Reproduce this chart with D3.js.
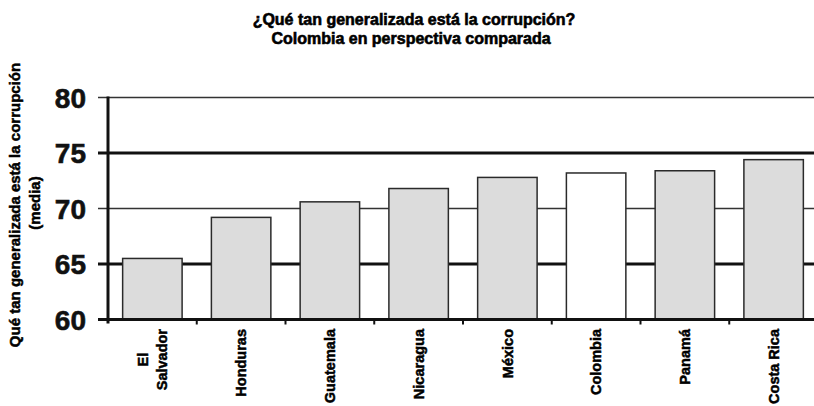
<!DOCTYPE html>
<html>
<head>
<meta charset="utf-8">
<script src="https://cdn.jsdelivr.net/npm/d3@7"></script>
<style>
  html, body { margin: 0; padding: 0; background: #fff; }
  svg { display: block; }
</style>
</head>
<body>
<svg id="chart" width="814" height="406"></svg>
<script>
const categories = ["El Salvador", "Honduras", "Guatemala", "Nicaragua", "México", "Colombia", "Panamá", "Costa Rica"];
const values = [65.5, 69.2, 70.6, 71.8, 72.8, 73.2, 73.4, 74.4];
const highlight = "Colombia";
const yTicks = [60, 65, 70, 75, 80];
const thickTicks = [60, 65, 75];
const titleLines = ["¿Qué tan generalizada está la corrupción?", "Colombia en perspectiva comparada"];
const yTitleLines = ["Qué tan generalizada está la corrupción", "(media)"];

const svg = d3.select("#chart");
const font = "'Liberation Sans', Arial, sans-serif";

const y = d3.scaleLinear().domain([60, 80]).range([319.5, 97.5]);
const x = d3.scaleBand().domain(categories).range([108, 818]).paddingInner(0.33).paddingOuter(0.165);
const step = x.step();

// gridlines
svg.append("g").selectAll("line").data(yTicks).join("line")
  .attr("x1", 98).attr("x2", 814)
  .attr("y1", d => y(d)).attr("y2", d => y(d))
  .attr("stroke", d => thickTicks.includes(d) ? "#111" : "#333")
  .attr("stroke-width", d => thickTicks.includes(d) ? 3 : 1.5);

// bars
svg.append("g").selectAll("rect").data(categories).join("rect")
  .attr("x", d => x(d))
  .attr("width", x.bandwidth())
  .attr("y", (d, i) => y(values[i]))
  .attr("height", (d, i) => y(60) - y(values[i]))
  .attr("fill", d => d === highlight ? "#ffffff" : "#dcdcdc")
  .attr("stroke", "#2a2a2a")
  .attr("stroke-width", 1.5);

// x axis line
svg.append("line").attr("x1", 98).attr("x2", 814).attr("y1", y(60)).attr("y2", y(60))
  .attr("stroke", "#111").attr("stroke-width", 3);

// y axis line
svg.append("line").attr("x1", 108).attr("x2", 108).attr("y1", y(80) - 1).attr("y2", y(60) + 4)
  .attr("stroke", "#111").attr("stroke-width", 3);

// x ticks at band boundaries
svg.append("g").selectAll("line").data(d3.range(1, categories.length + 1)).join("line")
  .attr("x1", i => x.range()[0] + i * step).attr("x2", i => x.range()[0] + i * step)
  .attr("y1", y(60)).attr("y2", y(60) + 5)
  .attr("stroke", "#111").attr("stroke-width", 2);

// y tick labels
svg.append("g").selectAll("text").data(yTicks).join("text")
  .attr("x", 86).attr("y", d => y(d)).attr("dy", "0.36em")
  .attr("text-anchor", "end")
  .attr("font-family", font).attr("font-weight", "bold").attr("font-size", 28)
  .attr("fill", "#111").attr("stroke", "#111").attr("stroke-width", 0.6)
  .text(d => d);

// x labels (rotated)
const xl = svg.append("g");
const labelTop = 329;
const lfs = 14.5;
categories.forEach(c => {
  const cx = x(c) + x.bandwidth() / 2;
  const words = c === "El Salvador" ? ["El", "Salvador"] : [c];
  if (words.length === 1) {
    xl.append("text")
      .attr("transform", `translate(${cx},${labelTop}) rotate(-90)`)
      .attr("dy", "0.36em")
      .attr("text-anchor", "end")
      .attr("font-family", font).attr("font-weight", "bold").attr("font-size", lfs)
      .attr("fill", "#000").attr("stroke", "#000").attr("stroke-width", 0.5)
      .text(c);
  } else {
    const tmp = xl.append("text").attr("font-family", font).attr("font-weight", "bold").attr("font-size", lfs).text(words[1]);
    const len = tmp.node().getComputedTextLength();
    tmp.remove();
    const midY = labelTop + len / 2;
    const lh = 19;
    words.forEach((w, k) => {
      const off = (k - (words.length - 1) / 2) * lh;
      xl.append("text")
        .attr("transform", `translate(${cx + off},${midY}) rotate(-90)`)
        .attr("dy", "0.36em")
        .attr("text-anchor", "middle")
        .attr("font-family", font).attr("font-weight", "bold").attr("font-size", lfs)
        .attr("fill", "#000").attr("stroke", "#000").attr("stroke-width", 0.5)
        .text(w);
    });
  }
});

// y axis title
const yt = svg.append("g");
yt.append("text")
  .attr("transform", "translate(20,205) rotate(-90)")
  .attr("text-anchor", "middle")
  .attr("font-family", font).attr("font-weight", "bold").attr("font-size", 15)
  .attr("fill", "#000").attr("stroke", "#000").attr("stroke-width", 0.5)
  .text(yTitleLines[0]);
yt.append("text")
  .attr("transform", "translate(40,203) rotate(-90)")
  .attr("text-anchor", "middle")
  .attr("font-family", font).attr("font-weight", "bold").attr("font-size", 15)
  .attr("fill", "#000").attr("stroke", "#000").attr("stroke-width", 0.5)
  .text(yTitleLines[1]);

// title
svg.append("g").selectAll("text").data(titleLines).join("text")
  .attr("x", (d, i) => i === 0 ? 414 : 411)
  .attr("y", (d, i) => i === 0 ? 25 : 44)
  .attr("text-anchor", "middle")
  .attr("font-family", font).attr("font-weight", "bold").attr("font-size", 16)
  .attr("fill", "#000").attr("stroke", "#000").attr("stroke-width", 0.6)
  .text(d => d);
</script>
</body>
</html>
